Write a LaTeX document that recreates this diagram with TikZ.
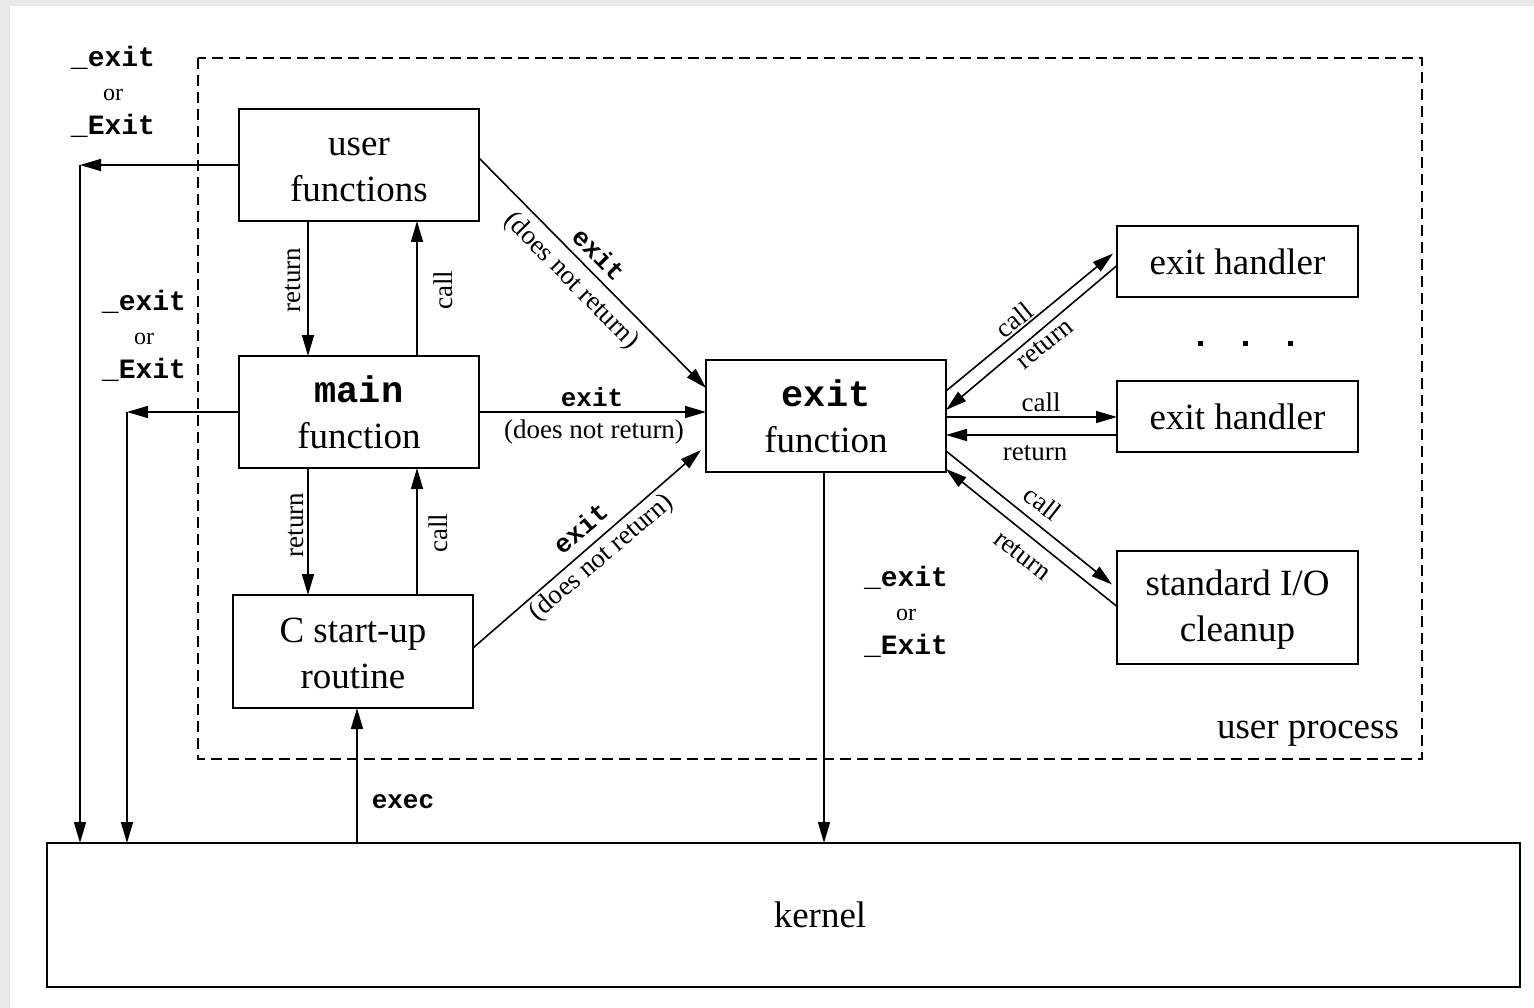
\documentclass[tikz,border=0pt]{standalone}
\usepackage{fontspec}
\setmainfont{Liberation Serif}
\setmonofont{Liberation Mono}
\usetikzlibrary{arrows.meta}
\newcommand{\upstrut}{\rule{0pt}{30pt}}
\newcommand{\downstrut}{\rule[-3pt]{0pt}{3pt}}
\begin{document}
\begin{tikzpicture}[x=1pt,y=-1pt,
  box/.style={draw, line width=2.9pt, inner sep=0pt, outer sep=0pt, align=center,
    font=\fontsize{37}{46}\selectfont},
  flow/.style={line width=1.6pt, -{Triangle[length=21pt,width=12pt]}},
  lab/.style={font=\fontsize{27}{30}\selectfont, inner sep=0pt},
  code/.style={font=\fontsize{26}{30}\selectfont\ttfamily\bfseries, inner sep=0pt},
  quit/.style={align=center, inner sep=0pt, font=\fontsize{28}{34}\selectfont},
]
% page background
\fill[gray!18] (0,0) rectangle (1534,1008);
\fill[white] (10,6) rectangle (1534,1008);
\useasboundingbox (0,0) rectangle (1534,1008);

% user process frame
\draw[line width=2.9pt, dash pattern=on 11pt off 6pt] (198,58) rectangle (1422,759);
\node[font=\fontsize{37}{40}\selectfont, inner sep=0pt] (up) at (1308,734) {user process};

% boxes
\node[box, minimum width=240pt, minimum height=112pt] (uf) at (359,165)
  {\upstrut user\\functions\downstrut};
\node[box, minimum width=240pt, minimum height=112pt] (main) at (359,412)
  {\upstrut{\ttfamily\bfseries main}\\function\downstrut};
\node[box, minimum width=240pt, minimum height=113pt] (st) at (353,651.5)
  {\upstrut C start-up\\routine\downstrut};
\node[box, minimum width=240pt, minimum height=112pt] (ef) at (826,416)
  {\upstrut{\ttfamily\bfseries exit}\\function\downstrut};
\node[box, minimum width=241pt, minimum height=71pt] (h1) at (1237.5,261.5) {exit handler};
\node[box, minimum width=241pt, minimum height=71pt] (h2) at (1237.5,416.5) {exit handler};
\node[box, minimum width=241pt, minimum height=113pt] (sio) at (1237.5,607.5)
  {\upstrut standard I/O\\cleanup\downstrut};
\node[box, minimum width=1473pt, minimum height=144pt] (kernel) at (783.5,915)
  {\hspace*{73pt}kernel};

% more handlers
\foreach \dx in {1197.5,1242.5,1287.5}
  \fill (\dx,340.5) rectangle +(5,5);

% _exit / _Exit straight to the kernel
\coordinate (k1) at (80,165);
\coordinate (k2) at (127,412);
\draw[flow] (uf.west) -- (k1);
\draw[flow] (k1) -- (k1 |- kernel.north);
\draw[flow] (main.west) -- (k2);
\draw[flow] (k2) -- (k2 |- kernel.north);
\node[quit] (q1) at (113,92) {{\ttfamily\bfseries\_exit}\\{\fontsize{24}{34}\selectfont or}\\{\ttfamily\bfseries\_Exit}};
\node[quit] (q2) at (144,336) {{\ttfamily\bfseries\_exit}\\{\fontsize{24}{34}\selectfont or}\\{\ttfamily\bfseries\_Exit}};
\node[quit] (q3) at (906,612) {{\ttfamily\bfseries\_exit}\\{\fontsize{24}{34}\selectfont or}\\{\ttfamily\bfseries\_Exit}};

% call / return between functions
\draw[flow] ([xshift=-51pt]uf.south) -- ([xshift=-51pt]main.north);
\draw[flow] ([xshift=58pt]main.north) -- ([xshift=58pt]uf.south);
\node[lab, rotate=90] (r1) at (293,280) {return};
\node[lab, rotate=90] (c1) at (443,290) {call};
\draw[flow] ([xshift=-51pt]main.south) -- ([xshift=-51pt]main.south |- st.north);
\draw[flow] ([xshift=64pt]st.north) -- ([xshift=64pt]st.north |- main.south);
\node[lab, rotate=90] (r2) at (296,525) {return};
\node[lab, rotate=90] (c2) at (438,533) {call};

% exec from the kernel
\coordinate (ex) at ([xshift=4pt]st.south);
\draw[flow] (ex |- kernel.north) -- (ex);
\node[code] (exec) at (403,802) {exec};

% exit calls
\draw[flow] ([yshift=7pt]uf.east) -- ([yshift=28pt]ef.west);
\node[code, rotate=-45.4] (e1) at (599,254) {exit};
\node[lab, rotate=-45.4] (n1) at (571,281) {(does not return)};
\draw[flow] (main.east) -- (main.east -| ef.west);
\node[code] (e2) at (592,397) {exit};
\node[lab] (n2) at (594,432) {(does not return)};
\draw[flow] ([yshift=3.5pt]st.east) -- ([yshift=-34pt,xshift=-5pt]ef.west);
\node[code, rotate=40.4] (e3) at (580,528) {exit};
\node[lab, rotate=40.4] (n3) at (602,558) {(does not return)};

% exit handlers and stdio cleanup
\draw[flow] ([yshift=25pt]ef.east) -- ([yshift=8pt,xshift=-4pt]h1.west);
\draw[flow] ([yshift=-4pt]h1.west) -- ([yshift=6pt]ef.east);
\node[lab, rotate=39] (c3) at (1014,320) {call};
\node[lab, rotate=39] (r3) at (1045,344) {return};
\draw[flow] ([yshift=-1pt]ef.east) -- ([yshift=-1pt]ef.east -| h2.west);
\draw[flow] ([yshift=-18.5pt]h2.west) -- ([yshift=-18.5pt]h2.west -| ef.east);
\node[lab] (c4) at (1041,402) {call};
\node[lab] (r4) at (1035,453) {return};
\draw[flow] ([yshift=-35pt]ef.east) -- ([yshift=23pt,xshift=-5pt]sio.west);
\draw[flow] ([yshift=1pt]sio.west) -- ([yshift=-53pt]ef.east);
\node[lab, rotate=-38] (c5) at (1043,503) {call};
\node[lab, rotate=-38] (r5) at (1022,556) {return};

% exit function to the kernel
\draw[flow] ([xshift=-2pt]ef.south) -- ([xshift=-2pt]ef.south |- kernel.north);
\end{tikzpicture}
\end{document}
